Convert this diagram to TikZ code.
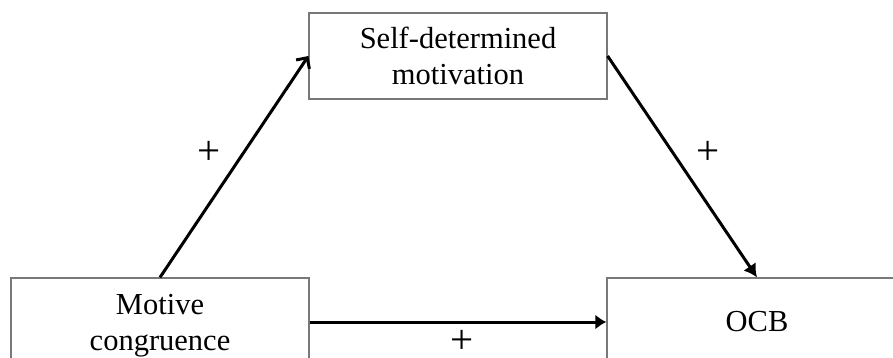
\documentclass[tikz,border=0pt]{standalone}
\usepackage{fontspec}
\setmainfont{Liberation Serif}
\usetikzlibrary{arrows.meta}
\definecolor{boxgray}{RGB}{120,120,120}
\begin{document}
\begin{tikzpicture}[x=1pt,y=-1pt,
  box/.style={draw=boxgray, line width=1.2pt, inner sep=0pt, align=center,
    font=\fontsize{30.5}{35.5}\selectfont},
  conn/.style={line width=3pt, black},
  sign/.style={inner sep=0pt, font=\fontsize{41}{41}\selectfont}]
\useasboundingbox (0,0) rectangle (893,358);
\clip (0,0) rectangle (893,358);
\node[box, minimum width=298pt, minimum height=86pt] (sdm) at (458,56) {Self-determined\\motivation};
\node[box, minimum width=298pt, minimum height=95pt] (mc) at (160,325.5) {Motive\\congruence};
\node[box, minimum width=300pt, minimum height=88pt] (ocb) at (757,322) {OCB};
\draw[conn, -{Straight Barb[length=8pt,width=16pt]}] (mc.north) -- (sdm.west);
\draw[conn, -{Latex[length=13pt,width=15pt]}] (sdm.east) -- (ocb.north);
\draw[conn, -{Latex[length=11pt,width=15pt]}] (ocb.west -| mc.east) -- (ocb.west);
\node[sign] (p1) at (209,153) {+};
\node[sign] (p2) at (708,153) {+};
\node[sign] (p3) at (462,342) {+};
\end{tikzpicture}
\end{document}
